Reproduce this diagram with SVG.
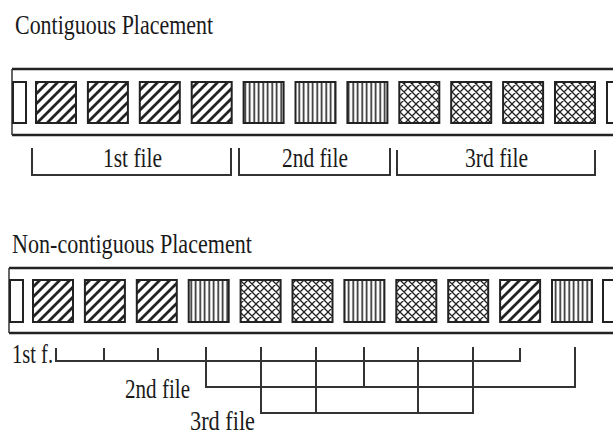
<svg xmlns="http://www.w3.org/2000/svg" width="613" height="435" viewBox="0 0 613 435">
<style>
.t{font-family:"Liberation Serif","Times New Roman",serif;font-size:28px;fill:#1a1a1a}
.frame{stroke:#222;stroke-width:2.5;fill:none}
.edge{stroke:#333;stroke-width:1.5;fill:none}
.box{stroke:#222;stroke-width:2}
.d{fill:url(#diag)}
.v{fill:url(#vert)}
.c{fill:url(#cross)}
.e{fill:#fff}
.ln{stroke:#333;stroke-width:2;fill:none}
</style>
<defs>
<pattern id="diag" patternUnits="userSpaceOnUse" width="10" height="10">
<rect width="10" height="10" fill="#fff"/>
<path d="M-1,11 L11,-1 M-6,6 L6,-6 M4,16 L16,4" stroke="#222" stroke-width="2.8"/>
</pattern>
<pattern id="vert" patternUnits="userSpaceOnUse" width="4.5" height="10">
<rect width="4.5" height="10" fill="#fff"/>
<path d="M2.2,0 V10" stroke="#222" stroke-width="1.6"/>
</pattern>
<pattern id="cross" patternUnits="userSpaceOnUse" width="8" height="8">
<rect width="8" height="8" fill="#fff"/>
<path d="M0,8 L8,0 M0,0 L8,8 M-2,2 L2,-2 M6,10 L10,6 M-2,6 L2,10 M6,-2 L10,2" stroke="#222" stroke-width="1.3"/>
</pattern>
</defs>
<rect width="613" height="435" fill="#fff"/>

<g id="title-contiguous"><text class="t" x="15" y="34" font-size="27" textLength="198" lengthAdjust="spacingAndGlyphs">Contiguous Placement</text></g>

<g id="strip-contiguous">
<path class="frame" d="M12,69 H613 M12,135 H613"/>
<path class="edge" d="M12,69 V135"/>
<rect class="box e" x="13" y="82" width="13" height="41"/>
<rect class="box d" x="36" y="82" width="40" height="41"/>
<rect class="box d" x="87.9" y="82" width="40" height="41"/>
<rect class="box d" x="139.8" y="82" width="40" height="41"/>
<rect class="box d" x="191.7" y="82" width="40" height="41"/>
<rect class="box v" x="243.6" y="82" width="40" height="41"/>
<rect class="box v" x="295.5" y="82" width="40" height="41"/>
<rect class="box v" x="347.4" y="82" width="40" height="41"/>
<rect class="box c" x="399.3" y="82" width="40" height="41"/>
<rect class="box c" x="451.2" y="82" width="40" height="41"/>
<rect class="box c" x="503.1" y="82" width="40" height="41"/>
<rect class="box c" x="555" y="82" width="40" height="41"/>
<rect class="box e" x="607" y="82" width="20" height="41"/>
</g>

<g id="labels-contiguous">
<text class="t" x="103" y="167" textLength="59" lengthAdjust="spacingAndGlyphs">1st file</text>
<text class="t" x="282" y="167" textLength="66" lengthAdjust="spacingAndGlyphs">2nd file</text>
<text class="t" x="465" y="167" textLength="63" lengthAdjust="spacingAndGlyphs">3rd file</text>
</g>

<g id="title-noncontiguous"><text class="t" x="12" y="253" textLength="240" lengthAdjust="spacingAndGlyphs">Non-contiguous Placement</text></g>

<g id="strip-noncontiguous">
<path class="frame" d="M9,268 H613 M9,333 H613"/>
<path class="edge" d="M9,268 V333"/>
<rect class="box e" x="10" y="280" width="13" height="42"/>
<rect class="box d" x="33" y="280" width="40" height="42"/>
<rect class="box d" x="84.9" y="280" width="40" height="42"/>
<rect class="box d" x="136.8" y="280" width="40" height="42"/>
<rect class="box v" x="188.7" y="280" width="40" height="42"/>
<rect class="box c" x="240.6" y="280" width="40" height="42"/>
<rect class="box c" x="292.5" y="280" width="40" height="42"/>
<rect class="box v" x="344.4" y="280" width="40" height="42"/>
<rect class="box c" x="396.3" y="280" width="40" height="42"/>
<rect class="box c" x="448.2" y="280" width="40" height="42"/>
<rect class="box d" x="500.1" y="280" width="40" height="42"/>
<rect class="box v" x="552" y="280" width="40" height="42"/>
<rect class="box e" x="603" y="280" width="20" height="42"/>
</g>

<g id="labels-noncontiguous">
<text class="t" x="12" y="363" textLength="41" lengthAdjust="spacingAndGlyphs">1st f.</text>
<text class="t" x="125" y="398" textLength="65" lengthAdjust="spacingAndGlyphs">2nd file</text>
<text class="t" x="190" y="430" textLength="65" lengthAdjust="spacingAndGlyphs">3rd file</text>
</g>

<g id="connectors">
<path class="ln" d="M32,148 V175 H231 V148"/>
<path class="ln" d="M239,148 V175 H390 V148"/>
<path class="ln" d="M397,150 V175 H595 V150"/>
<path class="ln" d="M56,348 V361 H520 V348 M104,348 V361 M158,348 V361"/>
<path class="ln" d="M206,347 V387 H575 V347 M364,347 V387"/>
<path class="ln" d="M261,347 V413 H473 V347 M316,347 V413 M418,347 V413"/>
</g>
</svg>
